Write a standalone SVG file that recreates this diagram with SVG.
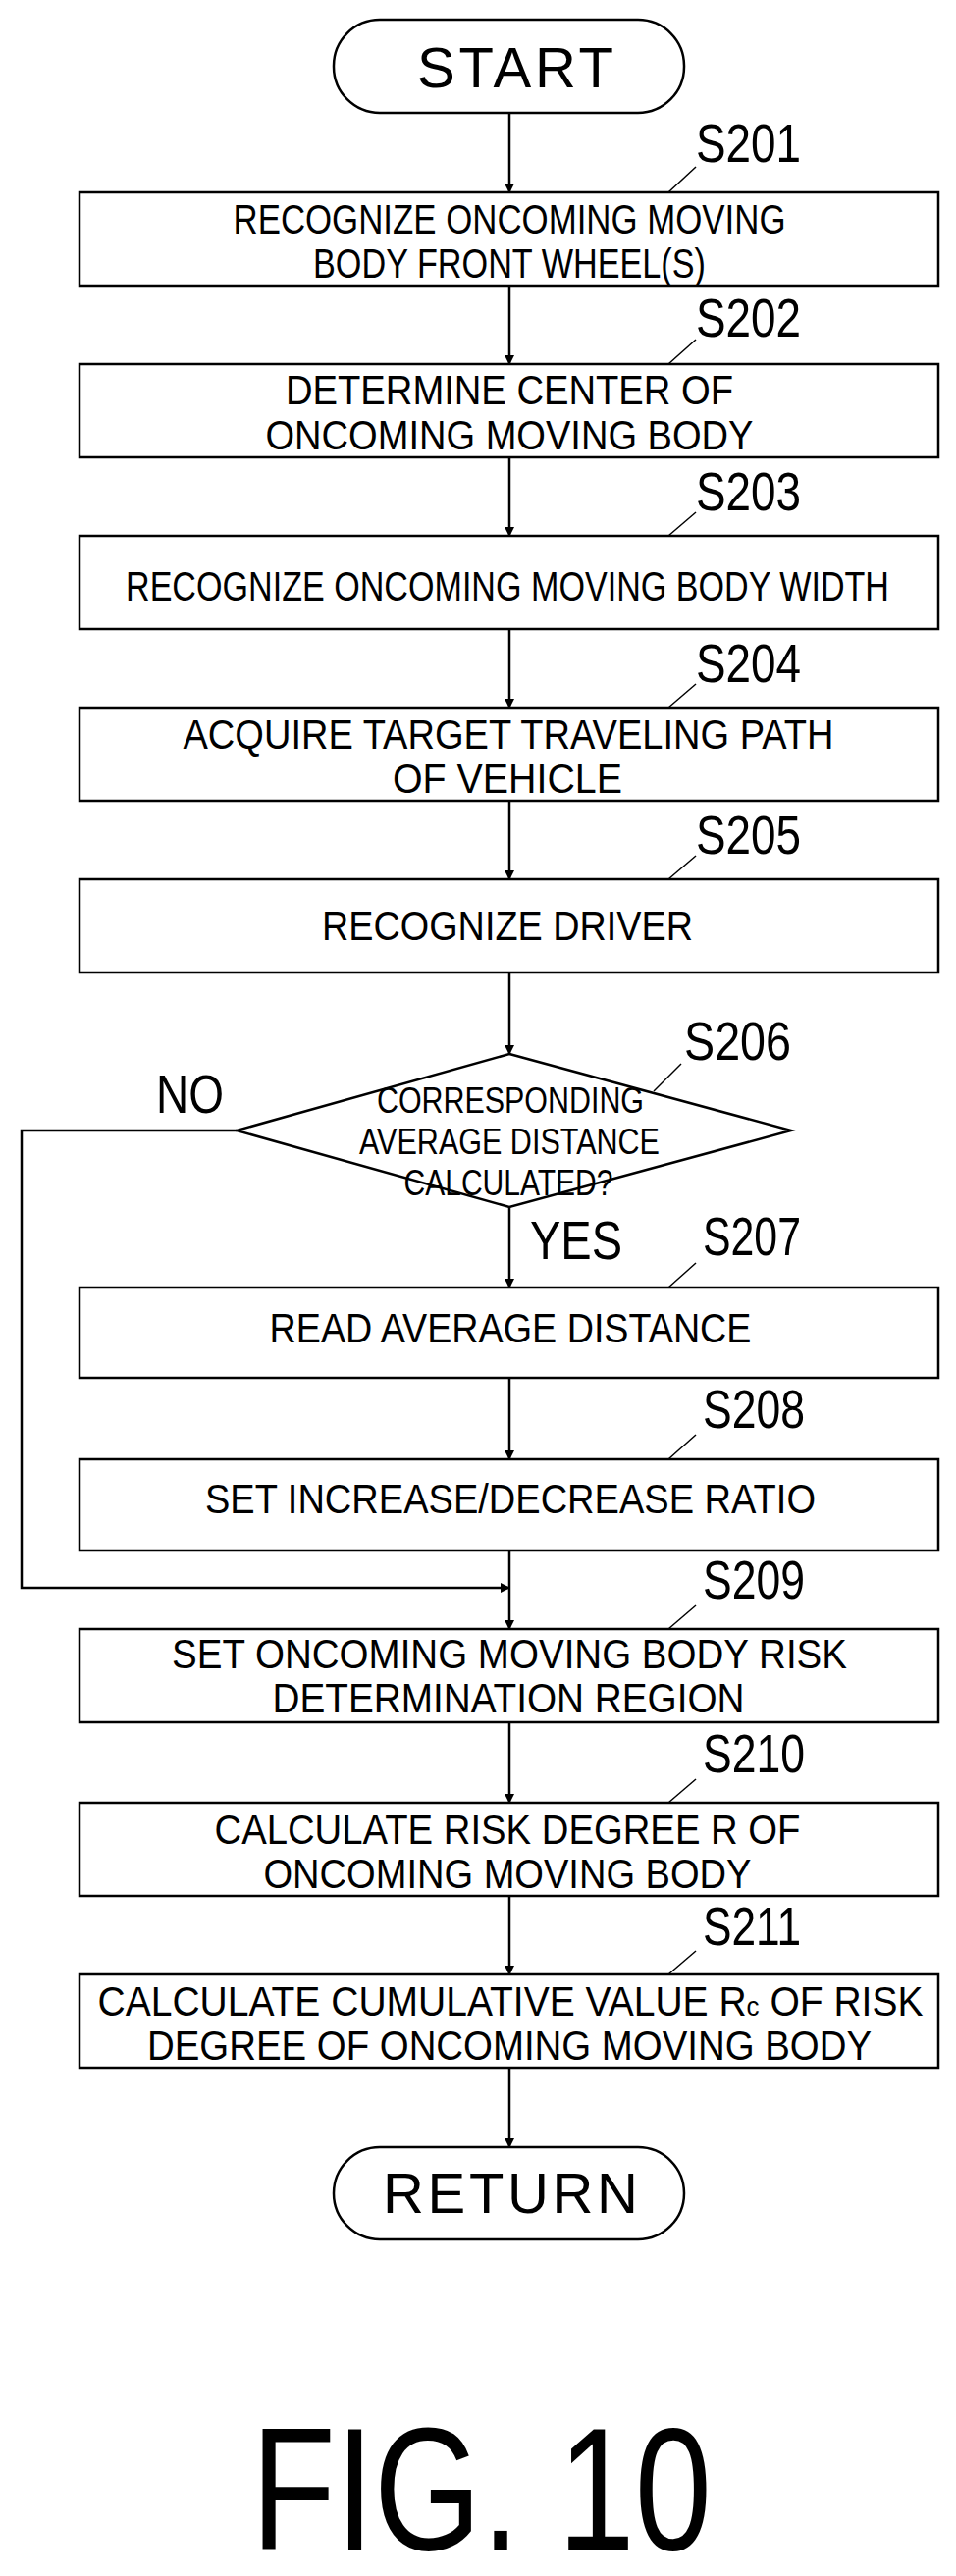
<svg xmlns="http://www.w3.org/2000/svg" width="974" height="2625" viewBox="0 0 974 2625">
<style>
.b{fill:#fff;stroke:#000;stroke-width:2.5}
.t{font-family:"Liberation Sans",Arial,sans-serif;font-size:42px;fill:#000;text-anchor:middle}
.q{font-family:"Liberation Sans",Arial,sans-serif;font-size:36px;fill:#000;text-anchor:middle}
.l{font-family:"Liberation Sans",Arial,sans-serif;font-size:56px;fill:#000}
.c{fill:none;stroke:#000;stroke-width:2.5}
.d{fill:none;stroke:#000;stroke-width:1.5}
</style>
<defs><marker id="a" markerWidth="10" markerHeight="12" refX="9" refY="6" orient="auto" markerUnits="userSpaceOnUse"><path d="M0,1 L10,6 L0,11 Z" fill="#000"/></marker></defs>
<rect width="974" height="2625" fill="#fff"/>
<g id="connectors">
<line class="c" x1="519" y1="115" x2="519" y2="196" marker-end="url(#a)"/>
<line class="c" x1="519" y1="291" x2="519" y2="371" marker-end="url(#a)"/>
<line class="c" x1="519" y1="466" x2="519" y2="546" marker-end="url(#a)"/>
<line class="c" x1="519" y1="641" x2="519" y2="721" marker-end="url(#a)"/>
<line class="c" x1="519" y1="816" x2="519" y2="896" marker-end="url(#a)"/>
<line class="c" x1="519" y1="991" x2="519" y2="1074" marker-end="url(#a)"/>
<line class="c" x1="519" y1="1230" x2="519" y2="1312" marker-end="url(#a)"/>
<line class="c" x1="519" y1="1404" x2="519" y2="1487" marker-end="url(#a)"/>
<line class="c" x1="519" y1="1580" x2="519" y2="1660" marker-end="url(#a)"/>
<polyline class="c" points="241,1152 22,1152 22,1618 519,1618" marker-end="url(#a)"/>
<line class="c" x1="519" y1="1755" x2="519" y2="1837" marker-end="url(#a)"/>
<line class="c" x1="519" y1="1932" x2="519" y2="2012" marker-end="url(#a)"/>
<line class="c" x1="519" y1="2107" x2="519" y2="2188" marker-end="url(#a)"/>
<text class="l" x="159" y="1134" textLength="69" lengthAdjust="spacingAndGlyphs">NO</text>
<text class="l" x="540" y="1283" textLength="94" lengthAdjust="spacingAndGlyphs">YES</text>
</g>
<g id="start"><rect class="b" x="340" y="20" width="357" height="95" rx="47"/><text class="l" x="425" y="89" style="font-size:58px" textLength="200" lengthAdjust="spacing">START</text></g>
<g id="s201"><rect class="b" x="81" y="196" width="875" height="95"/><text class="t" x="519" y="238" textLength="563" lengthAdjust="spacingAndGlyphs">RECOGNIZE ONCOMING MOVING</text><text class="t" x="519" y="283" textLength="400" lengthAdjust="spacingAndGlyphs">BODY FRONT WHEEL(S)</text><text class="l" x="709" y="165" textLength="107" lengthAdjust="spacingAndGlyphs">S201</text><line class="d" x1="709" y1="170" x2="681" y2="196"/></g>
<g id="s202"><rect class="b" x="81" y="371" width="875" height="95"/><text class="t" x="519" y="412" textLength="456" lengthAdjust="spacingAndGlyphs">DETERMINE CENTER OF</text><text class="t" x="519" y="458" textLength="497" lengthAdjust="spacingAndGlyphs">ONCOMING MOVING BODY</text><text class="l" x="709" y="343" textLength="107" lengthAdjust="spacingAndGlyphs">S202</text><line class="d" x1="709" y1="346" x2="681" y2="371"/></g>
<g id="s203"><rect class="b" x="81" y="546" width="875" height="95"/><text class="t" x="517" y="612" textLength="778" lengthAdjust="spacingAndGlyphs">RECOGNIZE ONCOMING MOVING BODY WIDTH</text><text class="l" x="709" y="520" textLength="107" lengthAdjust="spacingAndGlyphs">S203</text><line class="d" x1="709" y1="522" x2="681" y2="546"/></g>
<g id="s204"><rect class="b" x="81" y="721" width="875" height="95"/><text class="t" x="518" y="763" textLength="663" lengthAdjust="spacingAndGlyphs">ACQUIRE TARGET TRAVELING PATH</text><text class="t" x="517" y="808" textLength="234" lengthAdjust="spacingAndGlyphs">OF  VEHICLE</text><text class="l" x="709" y="695" textLength="107" lengthAdjust="spacingAndGlyphs">S204</text><line class="d" x1="709" y1="697" x2="681" y2="721"/></g>
<g id="s205"><rect class="b" x="81" y="896" width="875" height="95"/><text class="t" x="517" y="958" textLength="378" lengthAdjust="spacingAndGlyphs">RECOGNIZE DRIVER</text><text class="l" x="709" y="870" textLength="107" lengthAdjust="spacingAndGlyphs">S205</text><line class="d" x1="709" y1="872" x2="681" y2="896"/></g>
<g id="s206"><polygon class="b" points="519,1074 806,1152 519,1230 241,1152"/><text class="q" x="520" y="1134" textLength="272" lengthAdjust="spacingAndGlyphs">CORRESPONDING</text><text class="q" x="519" y="1176" textLength="306" lengthAdjust="spacingAndGlyphs">AVERAGE DISTANCE</text><text class="q" x="518" y="1218" textLength="213" lengthAdjust="spacingAndGlyphs">CALCULATED?</text><text class="l" x="697" y="1080" textLength="109" lengthAdjust="spacingAndGlyphs">S206</text><line class="d" x1="694" y1="1084" x2="666" y2="1112"/></g>
<g id="s207"><rect class="b" x="81" y="1312" width="875" height="92"/><text class="t" x="520" y="1368" textLength="491" lengthAdjust="spacingAndGlyphs">READ AVERAGE DISTANCE</text><text class="l" x="716" y="1279" textLength="100" lengthAdjust="spacingAndGlyphs">S207</text><line class="d" x1="709" y1="1287" x2="681" y2="1312"/></g>
<g id="s208"><rect class="b" x="81" y="1487" width="875" height="93"/><text class="t" x="520" y="1542" textLength="622" lengthAdjust="spacingAndGlyphs">SET INCREASE/DECREASE RATIO</text><text class="l" x="716" y="1455" textLength="104" lengthAdjust="spacingAndGlyphs">S208</text><line class="d" x1="709" y1="1462" x2="681" y2="1487"/></g>
<g id="s209"><rect class="b" x="81" y="1660" width="875" height="95"/><text class="t" x="519" y="1700" textLength="688" lengthAdjust="spacingAndGlyphs">SET ONCOMING MOVING BODY RISK</text><text class="t" x="518" y="1745" textLength="481" lengthAdjust="spacingAndGlyphs">DETERMINATION REGION</text><text class="l" x="716" y="1629" textLength="104" lengthAdjust="spacingAndGlyphs">S209</text><line class="d" x1="709" y1="1636" x2="681" y2="1660"/></g>
<g id="s210"><rect class="b" x="81" y="1837" width="875" height="95"/><text class="t" x="517" y="1879" textLength="597" lengthAdjust="spacingAndGlyphs">CALCULATE RISK DEGREE R OF</text><text class="t" x="517" y="1924" textLength="497" lengthAdjust="spacingAndGlyphs">ONCOMING MOVING BODY</text><text class="l" x="716" y="1806" textLength="104" lengthAdjust="spacingAndGlyphs">S210</text><line class="d" x1="709" y1="1813" x2="681" y2="1837"/></g>
<g id="s211"><rect class="b" x="81" y="2012" width="875" height="95"/><text class="t" x="520" y="2054" textLength="841" lengthAdjust="spacingAndGlyphs">CALCULATE CUMULATIVE VALUE R<tspan style="font-size:28px">c</tspan> OF RISK</text><text class="t" x="519" y="2099" textLength="738" lengthAdjust="spacingAndGlyphs">DEGREE OF ONCOMING MOVING BODY</text><text class="l" x="716" y="1982" textLength="100" lengthAdjust="spacingAndGlyphs">S211</text><line class="d" x1="709" y1="1988" x2="681" y2="2012"/></g>
<g id="return"><rect class="b" x="340" y="2188" width="357" height="94" rx="47"/><text class="l" x="390" y="2255" style="font-size:58px" textLength="260" lengthAdjust="spacing">RETURN</text></g>
<text class="l" x="256" y="2598" style="font-size:178px" textLength="469" lengthAdjust="spacingAndGlyphs">FIG. 10</text>
</svg>
